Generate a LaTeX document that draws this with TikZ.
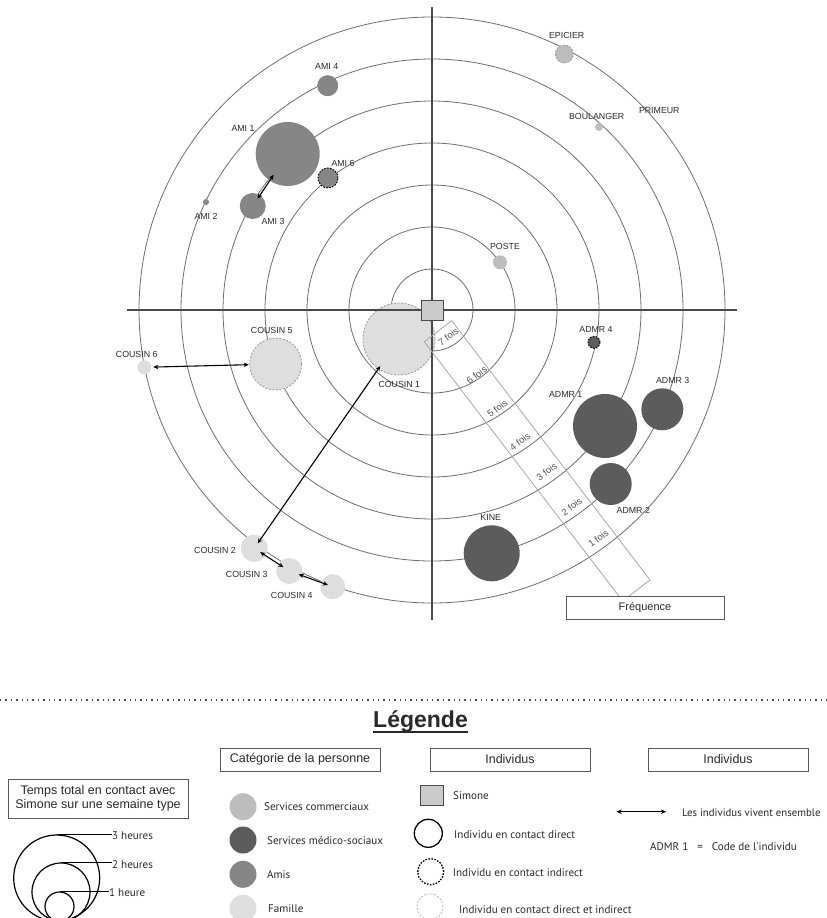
\documentclass[tikz,border=0pt]{standalone}
\usepackage{fontspec}
\setmainfont{Liberation Sans}
\newfontfamily\gill{PT Sans}
\usetikzlibrary{arrows.meta}
\definecolor{comc}{HTML}{BDBDBD}
\definecolor{medc}{HTML}{5C5C5C}
\definecolor{amic}{HTML}{868686}
\definecolor{famc}{HTML}{DEDEDE}
\definecolor{ringc}{HTML}{6E6E6E}
\definecolor{axisc}{HTML}{4A4A4A}
\definecolor{bandc}{HTML}{A8A8A8}
\definecolor{mixc}{HTML}{A0A0A0}
\definecolor{txtc}{HTML}{2A2A2A}
\definecolor{freqc}{HTML}{555555}
\definecolor{boxc}{HTML}{5A5A5A}
\begin{document}
\begin{tikzpicture}[x=1pt,y=-1pt,
  ring/.style={draw=ringc,line width=0.8pt},
  axisline/.style={draw=axisc,line width=1.2pt},
  blob/.style={circle,inner sep=0pt,minimum size=#1},
  com/.style={blob=#1,fill=comc},
  med/.style={blob=#1,fill=medc},
  ami/.style={blob=#1,fill=amic},
  fam/.style={blob=#1,fill=famc},
  indir/.style={draw=black,dash pattern=on 1.6pt off 1.4pt,line width=1pt},
  mixte/.style={draw=mixc,dash pattern=on 2pt off 1.5pt,line width=0.9pt},
  lab/.style={font=\fontsize{8.8}{9}\selectfont,text=txtc,inner sep=0pt},
  freq/.style={font=\fontsize{9.5}{10}\selectfont,text=freqc,rotate=37,inner sep=0pt},
  live/.style={{Stealth[length=5pt,width=4.5pt]}-{Stealth[length=5pt,width=4.5pt]},line width=1.1pt},
  headbox/.style={draw=boxc,line width=1pt,inner sep=0pt,font=\fontsize{12.5}{14}\selectfont,text=txtc,align=center},
  leg/.style={font=\gill\fontsize{11.1}{12}\selectfont,text=txtc,anchor=west,inner sep=0pt},
]
\useasboundingbox (0,0) rectangle (827,918);
\fill[white] (0,0) rectangle (827,918);

% rings
\foreach \r in {41,83,125,167,209,251,293}
  \draw[ring] (432,310) circle[radius=\r pt];

% people
\node[ami={64pt}] (ami1) at (287.7,154) {};
\node[ami={21pt}] (ami4) at (327.7,85.7) {};
\node[ami={20pt},indir] (ami6) at (328,178) {};
\node[ami={26pt}] (ami3) at (252.7,206) {};
\node[ami={6pt}] (ami2) at (206,202) {};
\node[com={18pt},mixte] (epicier) at (564.3,54) {};
\node[com={8pt}] (boul) at (599,127) {};
\node[com={14pt}] (poste) at (500,262.3) {};
\node[fam={14pt}] (c6) at (144.3,367.3) {};
\node[fam={52pt},mixte] (c5) at (275.7,364) {};
\node[fam={72pt},mixte] (c1) at (399,339) {};
\node[fam={27pt}] (c2) at (254.3,548.3) {};
\node[fam={26pt}] (c3) at (289.3,571) {};
\node[fam={25pt}] (c4) at (332.7,586.7) {};
\node[med={12pt},indir] (admr4) at (594,342.3) {};
\node[med={64pt}] (admr1) at (605,426) {};
\node[med={42pt}] (admr3) at (662.3,409.3) {};
\node[med={42pt}] (admr2) at (610.7,484) {};
\node[med={56pt}] (kine) at (491.7,553.3) {};

% axes
\draw[axisline] (127,310) -- (737,310);
\draw[axisline] (432,7) -- (432,620);

% frequency band
\draw[draw=bandc,line width=0.8pt] (424.3,341.7) -- (451.7,320.7) -- (650,580) -- (622.6,601) -- cycle;
\node[freq] (f7) at (448.3,336.7) {7 fois};
\node[freq] (f6) at (476.7,375) {6 fois};
\node[freq] (f5) at (497.3,408.3) {5 fois};
\node[freq] (f4) at (520,441.7) {4 fois};
\node[freq] (f3) at (546.7,471.7) {3 fois};
\node[freq] (f2) at (571.7,506.7) {2 fois};
\node[freq] (f1) at (598.3,538.3) {1 fois};
\node[draw=boxc,fill=white,line width=1pt,minimum width=158pt,minimum height=23pt,inner sep=0pt,font=\fontsize{11}{12}\selectfont,text=txtc] (freqbox) at (645,607.5) {Fréquence};

% Simone
\node[draw=axisc,fill=famc!80!gray,line width=1pt,minimum width=22pt,minimum height=20pt,inner sep=0pt] (simone) at (432,310) {};

% living together
\draw[live,shorten <=25pt,shorten >=9pt] (ami1.center) -- (ami3.center);
\draw[live,shorten <=9pt,shorten >=27pt] (c6.center) -- (c5.center);
\draw[live,shorten <=33pt,shorten >=6pt] (c1.center) -- (c2.center);
\draw[live,shorten <=7pt,shorten >=7pt] (c2.center) -- (c3.center);
\draw[live,shorten <=10pt,shorten >=5pt] (c3.center) -- (c4.center);

% labels
\node[lab] (lami4) at (326.7,66.7) {AMI 4};
\node[lab] (lami1) at (243,128) {AMI 1};
\node[lab] (lami6) at (343,163) {AMI 6};
\node[lab] (lami3) at (273,221) {AMI 3};
\node[lab] (lami2) at (206,216) {AMI 2};
\node[lab] (lepi) at (566.7,35.7) {EPICIER};
\node[lab] (lboul) at (596.7,116) {BOULANGER};
\node[lab] (lprim) at (659.3,111) {PRIMEUR};
\node[lab] (lposte) at (505,246.7) {POSTE};
\node[lab] (lc6) at (136.7,354) {COUSIN 6};
\node[lab] (lc5) at (271.7,330) {COUSIN 5};
\node[lab] (lc1) at (399.3,384.3) {COUSIN 1};
\node[lab] (lc2) at (215,550.7) {COUSIN 2};
\node[lab] (lc3) at (246.7,574) {COUSIN 3};
\node[lab] (lc4) at (291.7,595) {COUSIN 4};
\node[lab] (ladmr4) at (596,329.3) {ADMR 4};
\node[lab] (ladmr1) at (565.7,394.3) {ADMR 1};
\node[lab] (ladmr3) at (672.7,380.7) {ADMR 3};
\node[lab] (ladmr2) at (633.3,510) {ADMR 2};
\node[lab] (lkine) at (490.7,517.7) {KINE};

% ---------------- legend ----------------
\draw[draw=axisc,line width=1.4pt,dash pattern=on 1.4pt off 4pt] (0,700) -- (827,700);
\node[font=\bfseries\fontsize{23}{24}\selectfont,text=txtc,inner sep=0pt,anchor=base] (legt) at (420.5,727) {Légende};
\draw[txtc,line width=1.7pt] ([yshift=-5pt]legt.base west) -- ([yshift=-5pt]legt.base east);

\node[headbox,minimum width=180pt,minimum height=39pt] (htemps) at (98,798.5) {Temps total en contact avec\\Simone sur une semaine type};
\node[headbox,minimum width=160pt,minimum height=23pt] (hcat) at (300,759.5) {Catégorie de la personne};
\node[headbox,minimum width=160pt,minimum height=23pt] (hind1) at (510,759.5) {Individus};
\node[headbox,minimum width=160pt,minimum height=23pt] (hind2) at (728,759.5) {Individus};

% sizes
\node[circle,draw=black,line width=1.2pt,minimum size=86pt,inner sep=0pt] (h3) at (56.7,878) {};
\node[circle,draw=black,line width=1.2pt,minimum size=58pt,inner sep=0pt] (h2) at (61,892) {};
\node[circle,draw=black,line width=1.2pt,minimum size=29pt,inner sep=0pt] (h1) at (59.5,906.5) {};
\node[leg] (l3) at (112,836) {3 heures};
\node[leg] (l2) at (112,865) {2 heures};
\node[leg] (l1) at (109,892.5) {1 heure};
\draw[black,line width=1.1pt] (h3.north) -- (h3.north -| l3.west);
\draw[black,line width=1.1pt] (h2.north) -- (h2.north -| l2.west);
\draw[black,line width=1.1pt] (h1.north) -- (h1.north -| l1.west);

% categories
\node[com={27pt}] (kcom) at (243,806.7) {};
\node[med={27pt}] (kmed) at (243,840) {};
\node[ami={27pt}] (kami) at (243,874.3) {};
\node[fam={27pt}] (kfam) at (243,908.3) {};
\node[leg] (tcom) at (264,807) {Services commerciaux};
\node[leg] (tmed) at (267,840.5) {Services médico-sociaux};
\node[leg] (tami) at (267,874.5) {Amis};
\node[leg] (tfam) at (268,908.5) {Famille};

% individus
\node[draw=axisc,fill=famc!80!gray,line width=1pt,minimum width=23pt,minimum height=20pt,inner sep=0pt] (ksim) at (431.5,795) {};
\node[circle,draw=black,line width=1.3pt,minimum size=28pt,inner sep=0pt] (kdir) at (428.3,833.3) {};
\node[circle,indir,line width=1.3pt,minimum size=26pt,inner sep=0pt] (kind) at (430.7,871.7) {};
\node[circle,mixte,draw=mixc!70,minimum size=26pt,inner sep=0pt] (kmix) at (430,906.7) {};
\node[leg] (tsim) at (453,796) {Simone};
\node[leg] (tdir) at (454,835) {Individu en contact direct};
\node[leg] (tind) at (452.7,872.7) {Individu en contact indirect};
\node[leg] (tmix) at (459,910) {Individu en contact direct et indirect};

% right column
\coordinate (aL) at (616.7,811.7);
\coordinate (aR) at (666,811.7);
\draw[live] (aL) -- (aR);
\node[leg,font=\gill\fontsize{10.8}{12}\selectfont] (tlive) at (682,812.3) {Les individus vivent ensemble};
\node[leg] (tcode) at (650,846.7) {ADMR 1\hspace{9pt}=\hspace{9pt}Code de l'individu};
\end{tikzpicture}
\end{document}
